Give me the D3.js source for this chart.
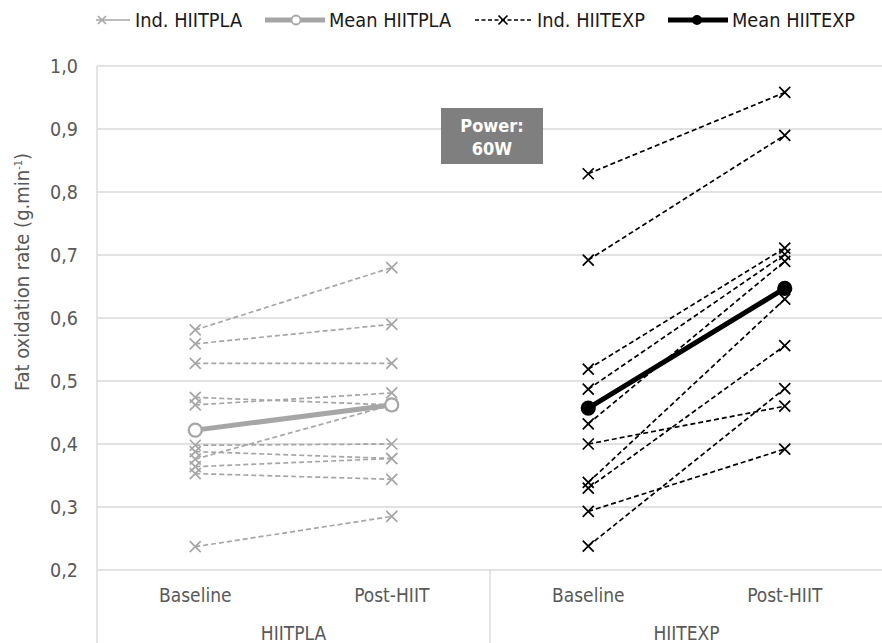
<!DOCTYPE html>
<html>
<head>
<meta charset="utf-8">
<script src="https://cdn.jsdelivr.net/npm/d3@7"></script>
<style>
  html, body { margin: 0; padding: 0; background: #fff; }
  svg { display: block; font-family: "DejaVu Sans Condensed", "DejaVu Sans", sans-serif; }
</style>
</head>
<body>
<svg id="chart" width="882" height="643"></svg>
<script>
// Groups and time points on the x axis
const groups = ["HIITPLA", "HIITEXP"];
const timepoints = ["Baseline", "Post-HIIT"];

// Individual fat oxidation rates (g.min-1), [baseline, post] per participant
const indPLA = [
  [0.581, 0.680],
  [0.559, 0.590],
  [0.528, 0.528],
  [0.474, 0.462],
  [0.462, 0.481],
  [0.398, 0.400],
  [0.388, 0.377],
  [0.376, 0.462],
  [0.364, 0.377],
  [0.353, 0.344],
  [0.237, 0.285]
];
const indEXP = [
  [0.829, 0.958],
  [0.692, 0.890],
  [0.519, 0.711],
  [0.487, 0.701],
  [0.432, 0.690],
  [0.400, 0.460],
  [0.339, 0.630],
  [0.330, 0.556],
  [0.293, 0.392],
  [0.238, 0.488]
];
// Group means
const meanPLA = [0.422, 0.462];
const meanEXP = [0.457, 0.647];

const yTicks = [0.2, 0.3, 0.4, 0.5, 0.6, 0.7, 0.8, 0.9, 1.0];
const legendItems = ["Ind. HIITPLA", "Mean HIITPLA", "Ind. HIITEXP", "Mean HIITEXP"];
const powerNote = ["Power:", "60W"];

const svg = d3.select("#chart");
const plotLeft = 97, plotRight = 883, plotTop = 66, plotBottom = 570;

const y = d3.scaleLinear().domain([0.2, 1.0]).range([plotBottom, plotTop]);
const xGroup = d3.scaleBand().domain(groups).range([plotLeft, plotRight]);
const xTime = d3.scaleBand().domain(timepoints).range([0, xGroup.bandwidth()]);
const xPos = (g, i) => xGroup(g) + xTime(timepoints[i]) + xTime.bandwidth() / 2;

const gridColor = "#d9d9d9";
const textColor = "#595959";
const grayLine = "#a6a6a6";

// Horizontal gridlines
svg.append("g")
  .selectAll("line")
  .data(yTicks)
  .join("line")
  .attr("x1", plotLeft).attr("x2", plotRight)
  .attr("y1", d => y(d)).attr("y2", d => y(d))
  .attr("stroke", gridColor).attr("stroke-width", 1.4);

// Y axis line and labels
svg.append("line")
  .attr("x1", plotLeft).attr("x2", plotLeft).attr("y1", plotTop).attr("y2", plotBottom)
  .attr("stroke", gridColor).attr("stroke-width", 1.4);

svg.append("g")
  .selectAll("text")
  .data(yTicks)
  .join("text")
  .attr("x", 78).attr("y", d => y(d))
  .attr("dy", "0.35em")
  .attr("text-anchor", "end")
  .attr("font-size", 19.5)
  .attr("fill", textColor)
  .text(d => d3.format(".1f")(d).replace(".", ","));

// Y axis title
const yTitle = svg.append("text")
  .attr("transform", `translate(29, 272) rotate(-90)`)
  .attr("text-anchor", "middle")
  .attr("font-size", 20)
  .attr("fill", textColor);
yTitle.append("tspan").text("Fat oxidation rate (g.min");
yTitle.append("tspan").attr("dy", -7).attr("font-size", 11).text("-1");
yTitle.append("tspan").attr("dy", 7).text(")");

// Category axis: dividers between groups
svg.append("g")
  .selectAll("line")
  .data([plotLeft, xGroup("HIITEXP"), plotRight])
  .join("line")
  .attr("x1", d => d).attr("x2", d => d)
  .attr("y1", plotBottom).attr("y2", 643)
  .attr("stroke", gridColor).attr("stroke-width", 1.4);

groups.forEach(g => {
  svg.append("g")
    .selectAll("text")
    .data(timepoints)
    .join("text")
    .attr("x", (d, i) => xPos(g, i))
    .attr("y", 602)
    .attr("text-anchor", "middle")
    .attr("font-size", 19)
    .attr("fill", textColor)
    .text(d => d);
  svg.append("text")
    .attr("x", xGroup(g) + xGroup.bandwidth() / 2)
    .attr("y", 640)
    .attr("text-anchor", "middle")
    .attr("font-size", 19)
    .attr("fill", textColor)
    .text(g);
});

// Marker helpers
function cross(sel, cx, cy, color, s = 5.5) {
  sel.append("path")
    .attr("d", `M${cx - s},${cy - s}L${cx + s},${cy + s}M${cx - s},${cy + s}L${cx + s},${cy - s}`)
    .attr("stroke", color).attr("stroke-width", 1.7).attr("fill", "none");
}

const line = d3.line();

function drawIndividuals(data, group, color) {
  const g = svg.append("g");
  data.forEach(pair => {
    const pts = pair.map((v, i) => [xPos(group, i), y(v)]);
    g.append("path")
      .attr("d", line(pts))
      .attr("fill", "none")
      .attr("stroke", color)
      .attr("stroke-width", 1.7)
      .attr("stroke-dasharray", "5,3");
    pts.forEach(p => cross(g, p[0], p[1], color));
  });
}

function drawMean(data, group, color, filled) {
  const g = svg.append("g");
  const pts = data.map((v, i) => [xPos(group, i), y(v)]);
  g.append("path")
    .attr("d", line(pts))
    .attr("fill", "none")
    .attr("stroke", color)
    .attr("stroke-width", 5);
  g.selectAll("circle")
    .data(pts)
    .join("circle")
    .attr("cx", d => d[0]).attr("cy", d => d[1])
    .attr("r", 6.5)
    .attr("fill", filled ? color : "#fff")
    .attr("stroke", color)
    .attr("stroke-width", 2.2);
}

drawIndividuals(indPLA, "HIITPLA", grayLine);
drawMean(meanPLA, "HIITPLA", grayLine, false);
drawIndividuals(indEXP, "HIITEXP", "#000");
drawMean(meanEXP, "HIITEXP", "#000", true);

// Annotation box
const note = svg.append("g");
note.append("rect")
  .attr("x", 441).attr("y", 108).attr("width", 102).attr("height", 56)
  .attr("fill", "#7f7f7f");
note.selectAll("text")
  .data(powerNote)
  .join("text")
  .attr("x", 492)
  .attr("y", (d, i) => 132 + i * 22.5)
  .attr("text-anchor", "middle")
  .attr("font-size", 18)
  .attr("font-weight", "bold")
  .attr("fill", "#fff")
  .text(d => d);

// Legend
const legend = svg.append("g").attr("font-size", 19.8).attr("fill", "#1a1a1a");
const ly = 20;
// Ind. HIITPLA
legend.append("line").attr("x1", 96).attr("x2", 130).attr("y1", ly).attr("y2", ly)
  .attr("stroke", grayLine).attr("stroke-width", 1.7);
cross(legend, 102, ly, grayLine, 4);
legend.append("text").attr("x", 135).attr("y", 27).text(legendItems[0]);
// Mean HIITPLA
legend.append("line").attr("x1", 265).attr("x2", 325).attr("y1", ly).attr("y2", ly)
  .attr("stroke", grayLine).attr("stroke-width", 5);
legend.append("circle").attr("cx", 296).attr("cy", ly).attr("r", 4.5)
  .attr("fill", "#fff").attr("stroke", grayLine).attr("stroke-width", 1.8);
legend.append("text").attr("x", 329).attr("y", 27).text(legendItems[1]);
// Ind. HIITEXP
legend.append("line").attr("x1", 475).attr("x2", 532).attr("y1", ly).attr("y2", ly)
  .attr("stroke", "#000").attr("stroke-width", 1.7).attr("stroke-dasharray", "4,2.5");
cross(legend, 503, ly, "#000", 4.5);
legend.append("text").attr("x", 537).attr("y", 27).text(legendItems[2]);
// Mean HIITEXP
legend.append("line").attr("x1", 668).attr("x2", 728).attr("y1", ly).attr("y2", ly)
  .attr("stroke", "#000").attr("stroke-width", 5);
legend.append("circle").attr("cx", 697).attr("cy", ly).attr("r", 5).attr("fill", "#000");
legend.append("text").attr("x", 732).attr("y", 27).text(legendItems[3]);
</script>
</body>
</html>
